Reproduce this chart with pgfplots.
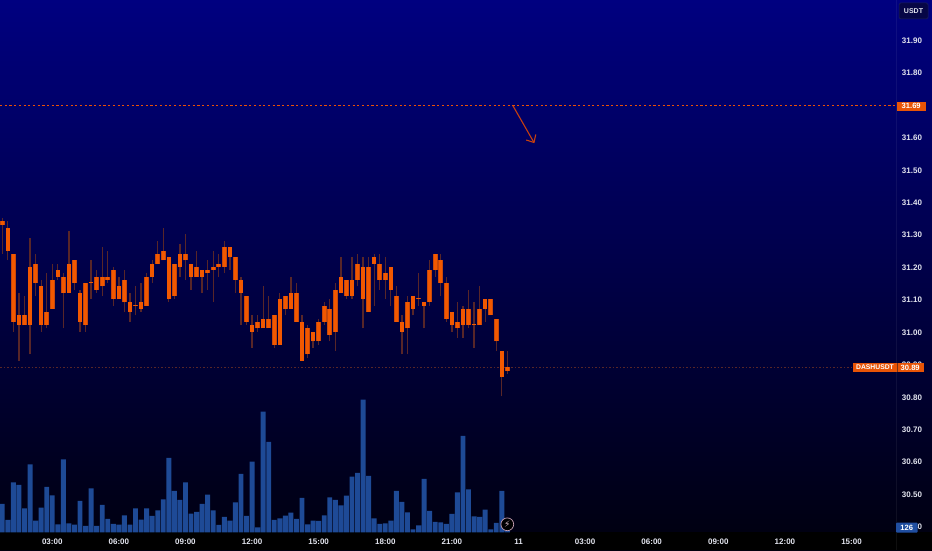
\documentclass[border=0pt]{standalone}
\usepackage{pgfplots}
\pgfplotsset{compat=1.18}
\usepackage{pgfplotstable}
\usepackage{fontspec}
\setmainfont{Liberation Sans}
\newfontfamily\djv{DejaVu Sans}
\usetikzlibrary{arrows.meta}
\definecolor{lbl}{RGB}{226,228,238}
\definecolor{body}{RGB}{242,88,0}
\definecolor{bodyedge}{RGB}{200,72,10}
\definecolor{wick}{RGB}{88,38,40}
\definecolor{volc}{RGB}{30,74,150}
\definecolor{arrowc}{RGB}{200,64,14}
\definecolor{boxo}{RGB}{232,84,6}
\definecolor{navytop}{RGB}{0,0,128}
\definecolor{navybot}{RGB}{0,0,14}
\definecolor{levelc}{RGB}{235,80,5}
\definecolor{usdtfill}{RGB}{6,6,70}
\definecolor{usdtedge}{RGB}{30,34,90}
\definecolor{divc}{RGB}{120,50,20}
\definecolor{volbox}{RGB}{32,78,160}
\definecolor{iconring}{RGB}{200,160,180}
\definecolor{iconbolt}{RGB}{215,185,198}
\pgfplotstableread{
i t b h l
0 31.34 31.33 31.35 31.24
1 31.32 31.25 31.34 31.22
2 31.24 31.03 31.24 31.00
3 31.05 31.02 31.12 30.91
4 31.05 31.02 31.11 31.02
5 31.20 31.02 31.29 30.93
6 31.21 31.15 31.24 31.11
7 31.14 31.02 31.16 31.00
8 31.06 31.02 31.18 31.01
9 31.16 31.07 31.21 31.07
10 31.19 31.17 31.21 31.16
11 31.17 31.12 31.18 31.01
12 31.21 31.12 31.31 31.12
13 31.22 31.15 31.22 31.13
14 31.12 31.03 31.13 31.00
15 31.15 31.02 31.15 31.00
16 31.15 31.15 31.22 31.10
17 31.17 31.13 31.19 31.12
18 31.17 31.14 31.26 31.11
19 31.17 31.16 31.25 31.15
20 31.19 31.10 31.20 31.08
21 31.14 31.10 31.17 31.10
22 31.16 31.09 31.19 31.06
23 31.09 31.06 31.12 31.03
24 31.08 31.08 31.14 31.05
25 31.09 31.07 31.15 31.06
26 31.17 31.08 31.18 31.08
27 31.21 31.17 31.22 31.15
28 31.24 31.21 31.28 31.21
29 31.25 31.22 31.32 31.22
30 31.23 31.10 31.23 31.09
31 31.21 31.11 31.21 31.10
32 31.24 31.20 31.27 31.17
33 31.24 31.22 31.30 31.16
34 31.21 31.17 31.21 31.13
35 31.20 31.17 31.25 31.17
36 31.19 31.17 31.19 31.12
37 31.19 31.18 31.22 31.13
38 31.20 31.19 31.25 31.09
39 31.21 31.20 31.24 31.17
40 31.26 31.20 31.28 31.18
41 31.26 31.23 31.26 31.19
42 31.23 31.16 31.23 31.12
43 31.16 31.12 31.17 31.02
44 31.11 31.03 31.11 31.02
45 31.02 31.00 31.05 30.95
46 31.03 31.01 31.05 31.00
47 31.04 31.01 31.14 31.01
48 31.04 31.01 31.11 31.01
49 31.05 30.96 31.05 30.95
50 31.10 30.96 31.12 30.96
51 31.11 31.07 31.11 31.05
52 31.12 31.07 31.17 31.07
53 31.12 31.03 31.15 31.03
54 31.03 30.91 31.05 30.91
55 31.01 30.93 31.02 30.92
56 31.00 30.97 31.00 30.95
57 31.03 30.97 31.04 30.96
58 31.08 31.03 31.09 31.02
59 31.07 30.99 31.10 30.97
60 31.13 31.00 31.15 30.94
61 31.17 31.12 31.23 31.12
62 31.16 31.11 31.16 31.10
63 31.16 31.11 31.23 31.10
64 31.21 31.16 31.24 31.14
65 31.20 31.10 31.23 31.01
66 31.20 31.06 31.23 31.06
67 31.23 31.21 31.24 31.08
68 31.21 31.16 31.24 31.13
69 31.18 31.16 31.23 31.10
70 31.20 31.13 31.20 31.08
71 31.11 31.03 31.14 31.03
72 31.03 31.00 31.05 30.93
73 31.09 31.01 31.11 30.93
74 31.11 31.07 31.11 31.05
75 31.10 31.10 31.18 31.08
76 31.09 31.08 31.09 31.01
77 31.19 31.09 31.22 31.08
78 31.24 31.19 31.24 31.17
79 31.22 31.15 31.24 31.11
80 31.15 31.04 31.17 31.03
81 31.06 31.02 31.06 31.00
82 31.03 31.01 31.09 30.98
83 31.07 31.02 31.08 30.98
84 31.07 31.02 31.13 31.01
85 31.02 31.02 31.09 30.95
86 31.07 31.02 31.14 31.02
87 31.10 31.07 31.10 31.03
88 31.10 31.05 31.10 31.05
89 31.04 30.97 31.04 30.94
90 30.94 30.86 30.94 30.80
91 30.89 30.88 30.94 30.87
}\candles
\pgfplotstableread{
i v
0 850
1 370
2 1500
3 1420
4 720
5 2040
6 350
7 740
8 1360
9 1110
10 240
11 2190
12 270
13 230
14 940
15 190
16 1320
17 190
18 820
19 400
20 250
21 230
22 510
23 230
24 720
25 380
26 720
27 490
28 660
29 990
30 2230
31 1240
32 970
33 1500
34 560
35 610
36 850
37 1130
38 660
39 220
40 460
41 350
42 900
43 1750
44 490
45 2120
46 150
47 3620
48 2710
49 370
50 420
51 500
52 590
53 400
54 1030
55 240
56 350
57 340
58 510
59 1050
60 970
61 810
62 1100
63 1670
64 1780
65 3980
66 1690
67 420
68 250
69 270
70 350
71 1240
72 910
73 600
74 90
75 210
76 1600
77 640
78 310
79 300
80 250
81 550
82 1200
83 2890
84 1290
85 480
86 460
87 680
88 90
89 280
90 1240
91 126
}\volumes
\pgfplotsset{
  chartbase/.style={
    scale only axis, width=932pt, height=550pt,
    at={(0pt,0pt)}, anchor=south west,
    xmin=-0.414, xmax=167.5,
    axis line style={draw=none},
    major tick length=0pt,
    tick style={draw=none},
  },
  pricebase/.style={chartbase, ymin=30.3263, ymax=32.0233},
}
\begin{document}
\begin{tikzpicture}
\path[use as bounding box] (0pt,0pt) rectangle (932pt,550pt);
% volume
\begin{axis}[chartbase,
  axis background/.style={top color=navytop, bottom color=navybot},
  ymin=-531, ymax=15969,
  ytick=\empty, xtick=\empty,
  ybar, bar width=4.9pt]
\fill[black] (rel axis cs:0,0) rectangle (rel axis cs:1,0.0322);
\draw[white,opacity=0.06,line width=0.6pt] (axis cs:161,-531) -- (axis cs:161,15969);
\addplot[fill=volc, draw=none] table[x=i,y=v] {\volumes};
\end{axis}
% wicks, level lines, arrow, price scale and time scale
\begin{axis}[pricebase,
  xtick={9,21,33,45,57,69,81,93,105,117,129,141,153},
  xticklabels={03:00,06:00,09:00,12:00,15:00,18:00,21:00,11,03:00,06:00,09:00,12:00,15:00},
  xticklabel style={anchor=center, yshift=8pt, text=lbl, font=\fontsize{8}{9}\selectfont\bfseries},
  ytick={30.4,30.5,30.6,30.7,30.8,30.9,31.0,31.1,31.2,31.3,31.4,31.5,31.6,31.7,31.8,31.9},
  yticklabel pos=right,
  yticklabel style={anchor=center, xshift=-20pt, yshift=-0.8pt, text=lbl, font=\fontsize{8}{9}\selectfont\bfseries,
    /pgf/number format/fixed, /pgf/number format/fixed zerofill, /pgf/number format/precision=2,
    /pgf/number format/assume math mode=true},
  ]
\addplot[wick, line width=1.3pt, quiver={u=0,v=\thisrow{h}-\thisrow{l}}] table[x=i,y=l] {\candles};
\addplot[color=levelc, line width=1.3pt, dash pattern=on 2.2pt off 2.5pt] coordinates {(-0.414,31.697) (161,31.697)};
\addplot[color=wick, line width=0.9pt, dash pattern=on 1.5pt off 2pt] coordinates {(-0.414,30.89) (153.4,30.89)};
\addplot[arrowc, line width=1.1pt, -{Straight Barb[length=6pt,width=11pt]}] coordinates {(92,31.697) (95.86,31.5815)};
\end{axis}
% candle bodies
\begin{axis}[pricebase, xtick=\empty, ytick=\empty]
\addplot[bodyedge, line width=4.6pt, quiver={u=0,v={max(\thisrow{t}-\thisrow{b},0.003)}}] table[x=i,y=b] {\candles};
\addplot[body, line width=3.4pt, quiver={u=0,v={max(\thisrow{t}-\thisrow{b},0.003)}}] table[x=i,y=b] {\candles};
\end{axis}
% labels on the price scale
\filldraw[rounded corners=1.5pt, fill=usdtfill, draw=usdtedge, line width=0.5pt] (899pt,531pt) rectangle (928pt,547pt);
\node[text=lbl, font=\fontsize{7}{8}\selectfont\bfseries] at (913.5pt,539pt) {USDT};
\fill[boxo] (897pt,439pt) rectangle (925.5pt,448.3pt);
\node[text=white, font=\fontsize{7.6}{8}\selectfont\bfseries] at (911.2pt,443.7pt) {31.69};
\fill[boxo] (853.3pt,177.7pt) rectangle (923.5pt,187.3pt);
\draw[divc,line width=0.4pt] (896.7pt,177.7pt) -- (896.7pt,187.3pt);
\node[text=white, font=\fontsize{6.8}{8}\selectfont\bfseries] at (875pt,182.5pt) {DASHUSDT};
\node[text=white, font=\fontsize{7.6}{8}\selectfont\bfseries] at (910.2pt,182.5pt) {30.89};
\fill[rounded corners=1pt, fill=volbox] (896pt,17.3pt) rectangle (917.7pt,27.3pt);
\node[text=white, font=\fontsize{7.6}{8}\selectfont\bfseries] at (906.8pt,22.3pt) {126};
% realtime icon
\filldraw[draw=iconring,line width=0.7pt,fill=black] (507.3pt,25.7pt) circle (6.4pt);
\node[text=iconbolt, font=\djv\fontsize{9}{10}\selectfont, inner sep=0pt] at (507.3pt,25.7pt) {⚡};
\end{tikzpicture}
\end{document}
